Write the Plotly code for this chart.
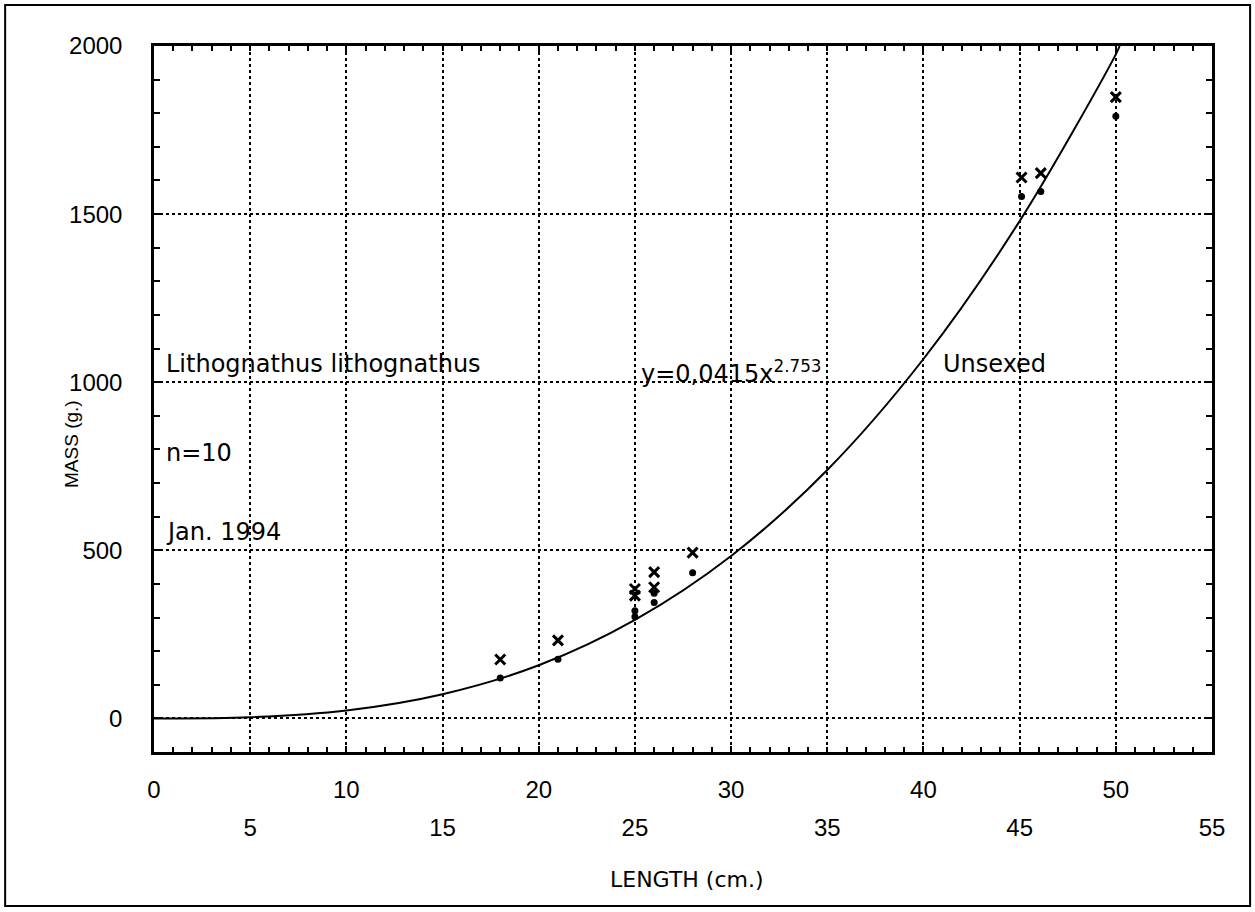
import plotly.graph_objects as go

# observed fish (length cm, mass g)
length = [18.0, 21.0, 25.0, 25.0, 26.0, 26.0, 28.0, 45.1, 46.1, 50.0]
mass_x = [175, 232, 385, 365, 435, 390, 493, 1609, 1622, 1848]
mass_dot = [120, 176, 320, 302, 372, 345, 433, 1552, 1567, 1791]

# fitted curve y=0,0415x^2.753
curve_x = [0, 5, 10, 15, 20, 25, 30, 35, 40, 45, 50, 50.2]
curve_y = [0, 3.5, 23.5, 72, 158, 293, 483, 739, 1069, 1479, 1975, 2000]

even_ticks = [0, 10, 20, 30, 40, 50]
odd_ticks = [5, 15, 25, 35, 45, 55]
y_ticks = [0, 500, 1000, 1500, 2000]

FONT = "Liberation Sans, Arial, sans-serif"
TEXT_FONT = "DejaVu Sans, sans-serif"

fig = go.Figure()
fig.add_trace(go.Scatter(x=curve_x, y=curve_y, mode="lines", line_shape="spline",
                         line=dict(color="black", width=2), hoverinfo="skip"))
fig.add_trace(go.Scatter(x=length, y=mass_x, mode="markers",
                         marker=dict(symbol="x-thin", size=10, line=dict(color="black", width=3))))
fig.add_trace(go.Scatter(x=length, y=mass_dot, mode="markers",
                         marker=dict(symbol="circle", size=7, color="black")))
# dummy trace so the second (odd label) axis is drawn
fig.add_trace(go.Scatter(x=[0], y=[0], xaxis="x2", mode="markers", marker=dict(opacity=0),
                         hoverinfo="skip"))

grid = dict(showgrid=True, gridcolor="black", griddash="dot", gridwidth=1.5)
axis_common = dict(showline=True, linecolor="black", linewidth=2.5, mirror="allticks",
                   ticks="inside", ticklen=6, tickcolor="black", tickwidth=1.5,
                   zeroline=False, tickfont=dict(family=FONT, size=24, color="black"), **grid)

fig.update_layout(
    width=1255, height=912,
    margin=dict(l=154, r=43, t=46, b=160),
    paper_bgcolor="white", plot_bgcolor="white",
    showlegend=False,
    xaxis=dict(range=[0, 55], tickvals=even_ticks, ticklabelstandoff=14,
               minor=dict(dtick=1, ticks="inside", ticklen=5, tickcolor="black", showgrid=False),
               **axis_common),
    yaxis=dict(range=[-100, 2000], tickvals=y_ticks, ticklabelstandoff=24,
               minor=dict(dtick=100, ticks="inside", ticklen=5, tickcolor="black", showgrid=False),
               **axis_common),
    # second bottom axis: the staggered odd labels and their grid lines
    xaxis2=dict(range=[0, 55], overlaying="x", side="bottom", anchor="y",
                tickvals=odd_ticks, ticks="", showline=False,
                zeroline=False, ticklabelstandoff=59,
                tickfont=dict(family=FONT, size=24, color="black"), **grid),
)

notes = [
    (0.5, 1055, "Lithognathus lithognathus"),
    (0.5, 790, "n=10"),
    (0.5, 555, "Jan. 1994"),
    (25.2, 1030, "y=0,0415x<sup>2.753</sup>"),
    (40.9, 1055, "Unsexed"),
]
for nx, ny, txt in notes:
    fig.add_annotation(x=nx, y=ny, text=txt, showarrow=False, xanchor="left", yanchor="middle",
                       font=dict(family=TEXT_FONT, size=24, color="black"))

# axis titles placed where the reference has them
fig.add_annotation(x=-0.078, y=0.437, xref="paper", yref="paper", text="MASS (g.)",
                   textangle=-90, showarrow=False, xanchor="center", yanchor="middle",
                   font=dict(family=FONT, size=19, color="black"))
fig.add_annotation(x=0.504, y=-0.181, xref="paper", yref="paper", text="LENGTH (cm.)",
                   showarrow=False, xanchor="center", yanchor="middle",
                   font=dict(family=TEXT_FONT, size=22, color="black"))

# outer frame around the whole sheet
fig.add_shape(type="rect", xref="paper", yref="paper", x0=-0.1407, x1=1.036, y0=-0.218, y1=1.058,
              line=dict(color="black", width=2))

# drop the default page margin so the figure sits at the window origin
fig.write_html("out.html", config={"displayModeBar": False},
               post_script="document.body.style.margin='0';")
